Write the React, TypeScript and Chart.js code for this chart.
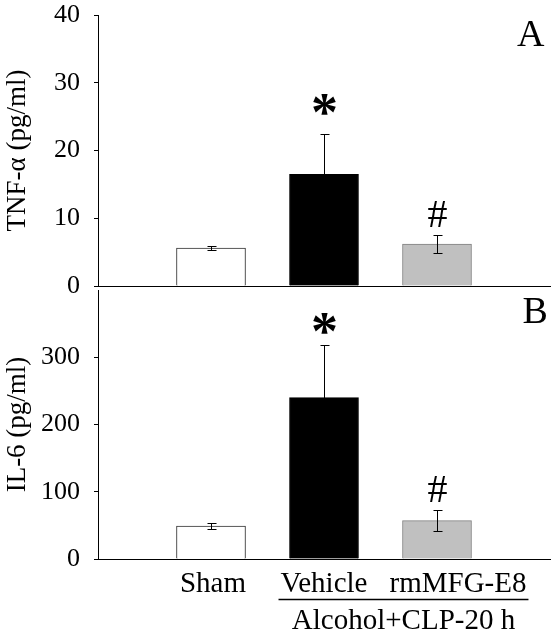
import React, { useEffect, useRef } from 'react';
import { Chart, registerables } from 'chart.js';

Chart.register(...registerables);

// ---- data ----
const categories = ['', 'Sham', 'Vehicle', 'rmMFG-E8', ''];
const tnfMeans = [null, 5.6, 16.5, 6.2, null];
const tnfErrors = [null, 0.3, 6.0, 1.4, null];
const il6Means = [null, 49, 240, 57, null];
const il6Errors = [null, 4.5, 78, 16, null];
const sigMarks = ['', '', '*', '#', ''];
const tnfTicks = [0, 10, 20, 30, 40];
const il6Ticks = [0, 100, 200, 300];
const tnfTitle = 'TNF-α (pg/ml)';
const il6Title = 'IL-6 (pg/ml)';
const groupLabel = 'Alcohol+CLP-20 h';

const barFill = ['#ffffff', '#ffffff', '#000000', '#c0c0c0', '#ffffff'];
const barEdge = ['#000000', '#303030', '#000000', '#808080', '#000000'];

const SERIF = "'Liberation Serif', 'Times New Roman', serif";

function drawCentered(ctx: CanvasRenderingContext2D, text: string, cx: number, cy: number, font: string) {
  ctx.font = font;
  ctx.textAlign = 'left';
  ctx.textBaseline = 'alphabetic';
  const m = ctx.measureText(text);
  const w = m.actualBoundingBoxLeft + m.actualBoundingBoxRight;
  const h = m.actualBoundingBoxAscent + m.actualBoundingBoxDescent;
  ctx.fillText(text, cx - w / 2 + m.actualBoundingBoxLeft, cy + m.actualBoundingBoxAscent - h / 2);
}

function makeOverlay(means: (number | null)[], errs: (number | null)[], opts: any) {
  return {
    id: 'overlay',
    afterDatasetsDraw(chart: any) {
      const ctx: CanvasRenderingContext2D = chart.ctx;
      const xs = chart.scales.x;
      const ys = chart.scales.y;
      ctx.save();
      ctx.strokeStyle = '#000';
      ctx.fillStyle = '#000';
      ctx.lineWidth = 1;
      means.forEach((m, i) => {
        if (m == null) return;
        const e = errs[i] || 0;
        const px = Math.round(xs.getPixelForValue(i)) + 0.5;
        const yt = Math.round(ys.getPixelForValue(m + e)) + 0.5;
        const yb = Math.round(ys.getPixelForValue(m - e)) + 0.5;
        ctx.beginPath();
        ctx.moveTo(px, yt);
        ctx.lineTo(px, yb);
        ctx.moveTo(px - 4, yt);
        ctx.lineTo(px + 5, yt);
        ctx.moveTo(px - 4, yb);
        ctx.lineTo(px + 5, yb);
        ctx.stroke();
        const mark = sigMarks[i];
        if (mark === '*') {
          drawCentered(ctx, '*', px, yt - opts.starGap, `bold 54px ${SERIF}`);
        } else if (mark === '#') {
          drawCentered(ctx, '#', px, yt - 22, `40px ${SERIF}`);
        }
      });
      // panel letter
      const ca = chart.chartArea;
      drawCentered(ctx, opts.letter, ca.right - opts.letterDx, ca.top + opts.letterDy, `38px ${SERIF}`);

      if (opts.categoryLabels) {
        const f = `29px ${SERIF}`;
        ctx.font = f;
        ctx.textBaseline = 'alphabetic';
        ctx.textAlign = 'center';
        const base = ca.bottom + 33;
        ctx.fillText(categories[1], xs.getPixelForValue(1) + 2, base);
        const vx = xs.getPixelForValue(2);
        const vW = ctx.measureText(categories[2]).width;
        ctx.fillText(categories[2], vx, base);
        const rx = xs.getPixelForValue(3) + 21;
        const rW = ctx.measureText(categories[3]).width;
        ctx.fillText(categories[3], rx, base);
        const ulStart = vx - vW / 2 - 2;
        const ulEnd = rx + rW / 2 + 2;
        ctx.beginPath();
        ctx.lineWidth = 1.5;
        ctx.moveTo(ulStart, ca.bottom + 40.5);
        ctx.lineTo(ulEnd, ca.bottom + 40.5);
        ctx.stroke();
        ctx.fillText(groupLabel, (ulStart + ulEnd) / 2, ca.bottom + 70);
      }
      ctx.restore();
    },
  };
}

function buildConfig(means: (number | null)[], errs: (number | null)[], max: number, ticks: number[], title: string, padTop: number, xHeight: number, opts: any) {
  return {
    type: 'bar' as const,
    data: {
      labels: categories,
      datasets: [
        {
          data: means,
          backgroundColor: barFill,
          borderColor: barEdge,
          borderWidth: 1,
          barThickness: 69,
        },
      ],
    },
    options: {
      responsive: false,
      animation: false,
      devicePixelRatio: 1,
      layout: { padding: { top: padTop, right: 7, left: 0, bottom: 0 } },
      plugins: { legend: { display: false }, tooltip: { enabled: false } },
      scales: {
        x: {
          type: 'category',
          offset: false,
          grid: { display: false },
          border: { display: true, color: '#000', width: 1 },
          ticks: { display: false },
          afterFit: (s: any) => {
            s.height = xHeight;
            s.paddingLeft = 0;
            s.paddingRight = 0;
          },
        },
        y: {
          min: 0,
          max,
          afterBuildTicks: (s: any) => {
            s.ticks = ticks.map((v) => ({ value: v }));
          },
          ticks: {
            color: '#000',
            font: { family: SERIF, size: 26 },
            padding: 14,
          },
          grid: { drawOnChartArea: false, tickLength: 4, color: '#000' },
          border: { display: true, color: '#000', width: 1 },
          title: {
            display: true,
            text: title,
            color: '#000',
            font: { family: SERIF, size: 27 },
            padding: { top: 2, bottom: 0 },
          },
          afterFit: (s: any) => {
            s.width = 98;
            s.paddingTop = 0;
            s.paddingBottom = 0;
          },
        },
      },
    },
    plugins: [makeOverlay(means, errs, opts)],
  };
}

export default function App() {
  const topRef = useRef<HTMLCanvasElement>(null);
  const botRef = useRef<HTMLCanvasElement>(null);

  useEffect(() => {
    const c1 = new Chart(
      topRef.current!,
      buildConfig(tnfMeans, tnfErrors, 40, tnfTicks, tnfTitle, 15, 14, {
        letter: 'A',
        letterDx: 19,
        letterDy: 18,
        starGap: 30,
        categoryLabels: false,
      }) as any
    );
    const c2 = new Chart(
      botRef.current!,
      buildConfig(il6Means, il6Errors, 400, il6Ticks, il6Title, 10, 72, {
        letter: 'B',
        letterDx: 15,
        letterDy: 20,
        starGap: 22,
        categoryLabels: true,
      }) as any
    );
    return () => {
      c1.destroy();
      c2.destroy();
    };
  }, []);

  return (
    <div style={{ position: 'absolute', left: 0, top: 0, width: 557, height: 631, background: '#fff' }}>
      <canvas ref={topRef} width={557} height={300} style={{ position: 'absolute', left: 0, top: 0 }} />
      <canvas ref={botRef} width={557} height={351} style={{ position: 'absolute', left: 0, top: 280 }} />
    </div>
  );
}
